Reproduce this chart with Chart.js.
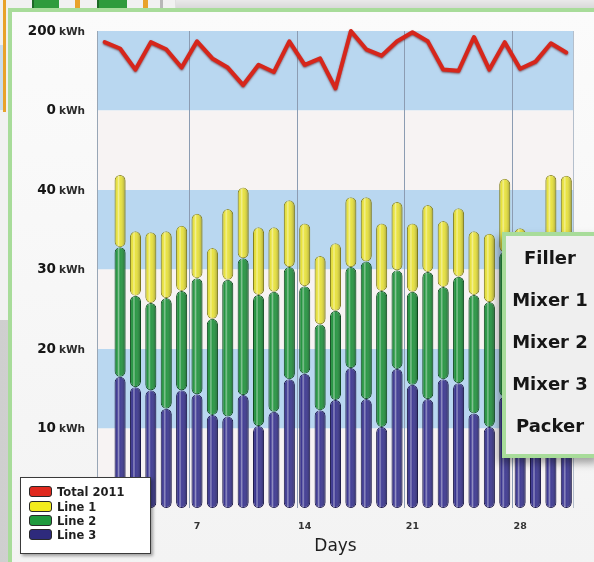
<!DOCTYPE html>
<html><head><meta charset="utf-8">
<script src="https://cdn.jsdelivr.net/npm/chart.js@4.4.1/dist/chart.umd.min.js"></script>
<style>
html,body{margin:0;padding:0;}
body{width:594px;height:562px;overflow:hidden;position:relative;background:linear-gradient(90deg,#cfcfcf,#e6e6e6 40%,#e0e0e0);font-family:"DejaVu Sans",Verdana,sans-serif;}
.abs{position:absolute;}
#backPanel{left:0;top:0;width:175px;height:320px;background:#f1f1f1;}
#panel{left:8px;top:8px;width:600px;height:560px;box-sizing:border-box;border:4px solid #a8dc9a;background:linear-gradient(#fbfbfb,#f3f3f3);}
#wrap{left:0;top:0;width:594px;height:562px;}
#legend{left:20px;top:477px;width:129px;height:75px;background:#fff;border:1.5px solid #3a3a3a;box-shadow:2px 2px 3px rgba(0,0,0,0.35);}
.row{position:absolute;left:8px;height:14px;font-weight:bold;font-size:11.5px;color:#1e1e1e;line-height:12px;white-space:nowrap;}
.sw{display:inline-block;width:21px;height:9px;border:1.5px solid #2a2a2a;border-radius:3px;vertical-align:top;margin-right:5px;}
#side{left:502px;top:232px;width:100px;height:226px;box-sizing:border-box;border:4px solid #a8dc9a;background:#efefef;box-shadow:-4px 5px 8px rgba(0,0,0,0.35);text-align:center;padding-top:1px;padding-right:4px;}
#side div{font-weight:bold;font-size:18px;line-height:42px;color:#161616;}
</style>
</head><body>
<div id="backPanel" class="abs"></div>
<div class="abs" style="left:3px;top:0;width:3px;height:112px;background:#e8a22a"></div>
<div class="abs" style="left:0;top:45px;width:3px;height:65px;background:#c9dced"></div>
<div class="abs" style="left:32px;top:0;width:25px;height:9px;background:#2f9b3c;border-left:2px solid #1d6a26"></div>
<div class="abs" style="left:75px;top:0;width:5px;height:9px;background:#e8a22a"></div>
<div class="abs" style="left:97px;top:0;width:28px;height:9px;background:#2f9b3c;border-left:2px solid #1d6a26"></div>
<div class="abs" style="left:143px;top:0;width:5px;height:9px;background:#e8a22a"></div>
<div class="abs" style="left:160px;top:0;width:3px;height:9px;background:#b8b8b8"></div>
<div class="abs" style="left:176px;top:0;width:420px;height:8px;background:linear-gradient(#e9e9e9,#d9d9d9)"></div>
<div id="panel" class="abs"></div>
<div id="wrap" class="abs"><canvas id="c" width="594" height="562"></canvas></div>
<div id="legend" class="abs">
  <div class="row" style="top:8px"><span class="sw" style="background:#e0291e"></span>Total 2011</div>
  <div class="row" style="top:23px"><span class="sw" style="background:#f3ec1c"></span>Line 1</div>
  <div class="row" style="top:37px"><span class="sw" style="background:#1f9a3d"></span>Line 2</div>
  <div class="row" style="top:51px"><span class="sw" style="background:#2e2a7c"></span>Line 3</div>
</div>
<div id="side" class="abs">
  <div>Filler</div><div>Mixer 1</div><div>Mixer 2</div><div>Mixer 3</div><div>Packer</div>
</div>
<script>
// ---- data ----
const days = ['1','2','3','4','5','6','7','8','9','10','11','12','13','14','15','16','17','18','19','20','21','22','23','24','25','26','27','28','29','30','31'];
const xTickDays = ['7','14','21','28'];
const total2011 = [172,156,103,172,154,108,174,131,108,64,115,97,174,115,131,56,200,154,138,174,197,174,103,100,185,103,172,105,123,169,146];
const line1 = [null,9.1,8.1,8.9,8.4,8.2,8.1,8.9,8.9,8.9,8.5,8.1,8.4,7.9,8.6,8.5,8.8,8.1,8.5,8.6,8.6,8.4,8.3,8.6,8.0,8.6,9.2,8.2,8.5,8.9,8.8];
const line2 = [null,16.3,11.5,11.0,13.9,12.5,14.6,12.1,17.2,17.2,16.5,15.1,14.1,11.0,10.8,11.2,12.7,17.3,17.1,12.4,11.7,16.0,11.6,13.4,14.9,15.7,18.2,14.0,10.0,17.0,18.5];
const line3 = [null,16.5,15.2,14.8,12.5,14.8,14.3,11.7,11.5,14.2,10.3,12.1,16.2,16.9,12.3,13.6,17.6,13.7,10.2,17.5,15.5,13.7,16.2,15.7,11.9,10.2,14.0,13.0,15.0,16.0,14.5];
const topTicks = [-200,0,200];
const bottomTicks = [0,10,20,30,40];

const BLUE = '#b9d7f0', PALE = '#f7f3f3';
const FONT = '"DejaVu Sans", Verdana, sans-serif';
Chart.defaults.font.family = FONT;

const bands = {
  id: 'bands',
  beforeDraw(chart) {
    const {ctx, chartArea: a} = chart;
    ctx.save();
    ['yTop', 'y'].forEach(id => {
      const s = chart.scales[id];
      const vals = s.ticks.map(t => t.value).sort((p, q) => q - p);
      for (let i = 0; i < vals.length - 1; i++) {
        const y1 = s.getPixelForValue(vals[i]), y2 = s.getPixelForValue(vals[i + 1]);
        ctx.fillStyle = i % 2 === 0 ? BLUE : PALE;
        ctx.fillRect(a.left, y1, a.right - a.left, y2 - y1);
      }
    });
    ctx.restore();
  }
};

function pill(ctx, x, top, w, h) {
  const r = Math.min(w / 2, h / 2);
  const l = x - w / 2;
  ctx.beginPath();
  ctx.moveTo(l + r, top);
  ctx.lineTo(l + w - r, top);
  ctx.arcTo(l + w, top, l + w, top + r, r);
  ctx.lineTo(l + w, top + h - r);
  ctx.arcTo(l + w, top + h, l + w - r, top + h, r);
  ctx.lineTo(l + r, top + h);
  ctx.arcTo(l, top + h, l, top + h - r, r);
  ctx.lineTo(l, top + r);
  ctx.arcTo(l, top, l + r, top, r);
  ctx.closePath();
}

const shading = {
  id: 'shading',
  afterDatasetsDraw(chart) {
    const ctx = chart.ctx;
    ctx.save();
    chart.data.datasets.forEach((ds, di) => {
      const meta = chart.getDatasetMeta(di);
      if (meta.type !== 'bar') return;
      meta.data.forEach((el, i) => {
        if (ds.data[i] == null) return;
        const p = el.getProps(['x', 'y', 'base', 'width'], true);
        const top = Math.min(p.y, p.base), h = Math.abs(p.base - p.y);
        const w = p.width, l = p.x - w / 2;
        const g = ctx.createLinearGradient(l, 0, l + w, 0);
        g.addColorStop(0, 'rgba(0,0,0,0.28)');
        g.addColorStop(0.22, 'rgba(255,255,255,0.0)');
        g.addColorStop(0.36, 'rgba(255,255,255,0.45)');
        g.addColorStop(0.5, 'rgba(255,255,255,0.05)');
        g.addColorStop(1, 'rgba(0,0,0,0.32)');
        pill(ctx, p.x, top + 0.5, w - 1, h - 1);
        ctx.fillStyle = g;
        ctx.fill();
      });
    });
    ctx.restore();
  }
};

const lineShadow = {
  id: 'lineShadow',
  beforeDatasetDraw(chart, args) {
    if (args.meta.type !== 'line') return;
    const ctx = chart.ctx;
    ctx.save();
    ctx.shadowColor = 'rgba(90,0,0,0.6)';
    ctx.shadowBlur = 2;
    ctx.shadowOffsetY = 1;
  },
  afterDatasetDraw(chart, args) {
    if (args.meta.type !== 'line') return;
    chart.ctx.restore();
  }
};

const yLabels = {
  id: 'yLabels',
  afterDraw(chart) {
    const ctx = chart.ctx;
    ctx.save();
    ctx.textBaseline = 'middle';
    ctx.textAlign = 'right';
    const right = 85;
    [['yTop', topTicks.filter(v => v >= 0)], ['y', bottomTicks]].forEach(([id, vals]) => {
      const s = chart.scales[id];
      vals.forEach(v => {
        const y = s.getPixelForValue(v);
        ctx.font = 'bold 10.5px ' + FONT;
        ctx.fillStyle = '#2a2a2a';
        const unit = 'kWh';
        const uw = ctx.measureText(unit).width;
        ctx.fillText(unit, right, y + 1);
        ctx.font = 'bold 13.5px ' + FONT;
        ctx.fillStyle = '#161616';
        ctx.fillText(String(v), right - uw - 3, y);
      });
    });
    ctx.restore();
  }
};

const barStyle = (label, data, bg, border) => ({
  type: 'bar', label, data, yAxisID: 'y', xAxisID: 'x', clip: false,
  backgroundColor: bg, borderColor: border, borderWidth: 1,
  borderSkipped: false,
  borderRadius: {topLeft: 6, topRight: 6, bottomLeft: 6, bottomRight: 6},
  barPercentage: 0.72, categoryPercentage: 1.0
});

new Chart(document.getElementById('c'), {
  data: {
    labels: days,
    datasets: [
      {type: 'line', label: 'Total 2011', data: total2011, yAxisID: 'yTop', xAxisID: 'x',
       borderColor: '#d6261b', borderWidth: 4, pointRadius: 0, tension: 0, fill: false,
       borderJoinStyle: 'round', borderCapStyle: 'round', order: 0, clip: false},
      barStyle('Line 3', line3, '#3a3590', '#1c1850'),
      barStyle('Line 2', line2, '#22943e', '#0d4f1e'),
      barStyle('Line 1', line1, '#e8e23a', '#8f8a1c')
    ]
  },
  options: {
    responsive: false,
    animation: false,
    layout: {padding: {left: 97, top: 31, right: 20, bottom: 0}},
    plugins: {legend: {display: false}, tooltip: {enabled: false}, title: {display: false}},
    scales: {
      x: {
        type: 'category', offset: true, stacked: true,
        grid: {offset: true, drawTicks: false, lineWidth: 1,
               color: c => (c.index === undefined) ? '#b4bfcc' : ((c.index % 7 === 6) ? '#8c9cb2' : 'rgba(0,0,0,0)')},
        border: {display: false},
        ticks: {autoSkip: false, maxRotation: 0, padding: 13, color: '#333',
                font: {family: FONT, size: 9.5, weight: 'bold'},
                callback: (v, i) => xTickDays.includes(days[i]) ? days[i] : ''},
        title: {display: true, text: 'Days', color: '#1e1e1e', font: {family: FONT, size: 17}, padding: {top: 0, bottom: 5}},
        afterFit: s => { s.height = 54; }
      },
      y: {
        type: 'linear', position: 'left', stack: 'kwh', stackWeight: 2, stacked: true,
        min: 0, max: 40,
        afterBuildTicks: s => { s.ticks = bottomTicks.map(v => ({value: v})); },
        ticks: {display: false}, grid: {display: false},
        border: {display: true, color: '#98a6b6'},
        afterFit: s => { s.width = 0; }
      },
      yTop: {
        type: 'linear', position: 'left', stack: 'kwh', stackWeight: 1,
        min: -200, max: 200,
        afterBuildTicks: s => { s.ticks = topTicks.map(v => ({value: v})); },
        ticks: {display: false}, grid: {display: false},
        border: {display: true, color: '#98a6b6'},
        afterFit: s => { s.width = 0; }
      }
    }
  },
  plugins: [bands, shading, lineShadow, yLabels]
});
</script>
</body></html>
